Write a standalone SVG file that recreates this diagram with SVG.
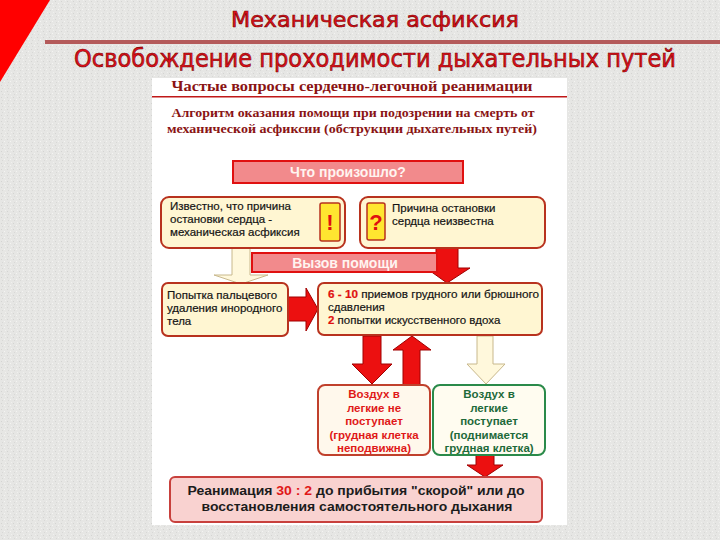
<svg xmlns="http://www.w3.org/2000/svg" width="720" height="540" viewBox="0 0 720 540">
<defs>
<pattern id="noise" width="6" height="6" patternUnits="userSpaceOnUse">
<rect width="6" height="6" fill="#e6e6e4"/>
<rect x="1" y="1" width="1" height="1" fill="#d4d4d2"/>
<rect x="4" y="3" width="1" height="1" fill="#f4f4f2"/>
<rect x="2" y="4" width="1" height="1" fill="#d8d8d6"/>
<rect x="5" y="0" width="1" height="1" fill="#f0f0ee"/>
</pattern>
</defs>
<style>
.ttl{font-family:"DejaVu Sans","Liberation Sans",sans-serif;fill:#e0101a;stroke:#7a0000;stroke-width:0.6}
.hdr{font-family:"Liberation Serif",serif;font-weight:bold;fill:#8a1414}
.box{fill:#fff6d2;stroke:#b8321e;stroke-width:2}
.pink{fill:#f28a8c;stroke:#e01010;stroke-width:2}
.wt{font-family:"Liberation Sans",sans-serif;font-weight:bold;font-size:14px;fill:#fff4f0;text-anchor:middle}
.t{font-family:"Liberation Sans",sans-serif;font-size:11.5px;fill:#141414;stroke:#141414;stroke-width:0.2}
.r{fill:#e01010;stroke:#e01010;font-weight:bold}
.ra{fill:#ec1010;stroke:#a00000;stroke-width:1}
.la{fill:#fff8dc;stroke:#c8b88c;stroke-width:1}
.q{fill:#ffe630;stroke:#b8321e;stroke-width:1.5}
.qt{font-family:"Liberation Sans",sans-serif;font-weight:bold;font-size:22px;fill:#e01010;text-anchor:middle}
.c{font-family:"Liberation Sans",sans-serif;font-size:11.5px;font-weight:bold;text-anchor:middle}
</style>
<rect width="720" height="540" fill="url(#noise)"/>
<polygon points="0,0 50,0 0,82" fill="#ff0000"/>
<text class="ttl" x="375" y="27" font-size="21" text-anchor="middle" textLength="288" lengthAdjust="spacingAndGlyphs">Механическая асфиксия</text>
<rect x="45" y="40" width="675" height="4" fill="#b45a5a"/>
<text class="ttl" x="375" y="67" font-size="24" text-anchor="middle" textLength="602" lengthAdjust="spacingAndGlyphs">Освобождение проходимости дыхательных путей</text>
<rect x="152" y="78" width="415" height="447" fill="#ffffff"/>
<text class="hdr" x="352" y="91" font-size="14" text-anchor="middle" textLength="361" lengthAdjust="spacingAndGlyphs">Частые вопросы сердечно-легочной реанимации</text>
<rect x="152" y="96" width="415" height="1.5" fill="#c01818"/>
<text class="hdr" x="353" y="117" font-size="13" text-anchor="middle" textLength="363" lengthAdjust="spacingAndGlyphs">Алгоритм оказания помощи при подозрении на смерть от</text>
<text class="hdr" x="352" y="133" font-size="13" text-anchor="middle" textLength="370" lengthAdjust="spacingAndGlyphs">механической асфиксии (обструкции дыхательных путей)</text>
<g id="connectors">
<polygon class="la" points="232,248 250,248 250,275 268,275 241,284 214,275 232,275"/>
<polygon class="ra" points="436,248 458,248 458,268 470,268 447,283 426,268 436,268"/>
<polygon class="ra" points="288,297 306,297 306,288 318,309 306,331 306,321 288,321"/>
<polygon class="ra" points="363,336 381,336 381,364 392,364 372,384 352,364 363,364"/>
<polygon class="ra" points="403,385 420,385 420,350 431,350 412,336 393,350 403,350"/>
<polygon class="la" points="477,336 493,336 493,364 505,364 486,384 467,364 477,364"/>
<polygon class="ra" points="476,455 494,455 494,465 503,465 485,477 467,465 476,465"/>
</g>
<g id="n-what">
<rect class="pink" x="233" y="161" width="230" height="22"/>
<text class="wt" x="348" y="177">Что произошло?</text>
</g>
<g id="n-known">
<rect class="box" x="161" y="197" width="184" height="51" rx="8"/>
<text class="t" x="170" y="210">Известно, что причина</text>
<text class="t" x="170" y="223">остановки сердца -</text>
<text class="t" x="170" y="236">механическая асфиксия</text>
<rect class="q" x="320" y="203" width="20" height="38" rx="2"/>
<text class="qt" x="330" y="230">!</text>
</g>
<g id="n-unknown">
<rect class="box" x="360" y="197" width="185" height="51" rx="8"/>
<rect class="q" x="367" y="203" width="18" height="37" rx="2"/>
<text class="qt" x="376" y="230">?</text>
<text class="t" x="392" y="212">Причина остановки</text>
<text class="t" x="392" y="225">сердца неизвестна</text>
</g>
<g id="n-call">
<rect class="pink" x="252" y="253" width="185" height="19"/>
<text class="wt" x="345" y="268">Вызов помощи</text>
</g>
<g id="n-finger">
<rect class="box" x="162" y="283" width="126" height="53" rx="6"/>
<text class="t" x="167" y="299">Попытка пальцевого</text>
<text class="t" x="167" y="312">удаления инородного</text>
<text class="t" x="167" y="325">тела</text>
</g>
<g id="n-compress">
<rect class="box" x="318" y="283" width="224" height="52" rx="6"/>
<text class="t" x="328" y="298" textLength="211" lengthAdjust="spacingAndGlyphs"><tspan class="r">6 - 10</tspan> приемов грудного или брюшного</text>
<text class="t" x="328" y="311">сдавления</text>
<text class="t" x="328" y="324"><tspan class="r">2</tspan> попытки искусственного вдоха</text>
</g>
<g id="n-noair">
<rect x="318" y="385" width="112" height="70" rx="7" fill="#fff8ec" stroke="#c0402c" stroke-width="2"/>
<text class="c" x="374" y="398" fill="#e01818">Воздух в</text>
<text class="c" x="374" y="412" fill="#e01818">легкие не</text>
<text class="c" x="374" y="425" fill="#e01818">поступает</text>
<text class="c" x="374" y="439" fill="#e01818">(грудная клетка</text>
<text class="c" x="374" y="452" fill="#e01818">неподвижна)</text>
</g>
<g id="n-air">
<rect x="433" y="385" width="112" height="70" rx="7" fill="#fffcf0" stroke="#2a8a4a" stroke-width="2"/>
<text class="c" x="489" y="398" fill="#1e6a3a">Воздух в</text>
<text class="c" x="489" y="412" fill="#1e6a3a">легкие</text>
<text class="c" x="489" y="425" fill="#1e6a3a">поступает</text>
<text class="c" x="489" y="439" fill="#1e6a3a">(поднимается</text>
<text class="c" x="489" y="452" fill="#1e6a3a">грудная клетка)</text>
</g>
<g id="n-cpr">
<rect x="170" y="477" width="372" height="45" rx="5" fill="#f9d2d0" stroke="#c8403c" stroke-width="2"/>
<text x="356" y="495" font-family="Liberation Sans, sans-serif" font-weight="bold" font-size="13.5" fill="#1c1c1c" text-anchor="middle" textLength="337" lengthAdjust="spacingAndGlyphs">Реанимация <tspan fill="#e01818">30 : 2</tspan> до прибытия "скорой" или до</text>
<text x="357" y="511" font-family="Liberation Sans, sans-serif" font-weight="bold" font-size="13.5" fill="#1c1c1c" text-anchor="middle" textLength="311" lengthAdjust="spacingAndGlyphs">восстановления самостоятельного дыхания</text>
</g>
</svg>
